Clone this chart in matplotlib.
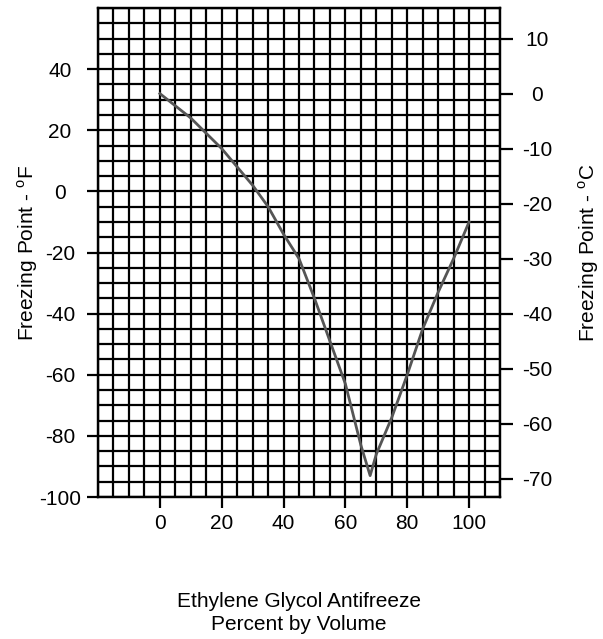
import numpy as np
import matplotlib
matplotlib.use("Agg")
import matplotlib.pyplot as plt

plt.rcParams['font.family'] = ['Liberation Sans', 'DejaVu Sans']
plt.rcParams['mathtext.fontset'] = 'custom'
plt.rcParams['mathtext.rm'] = 'Liberation Sans'
plt.rcParams['axes.unicode_minus'] = False

# Data
percent = [0, 10, 20, 30, 35, 40, 45, 50, 55, 60, 65, 68, 70, 75, 80, 85, 90, 95, 100]
freeze_f = [32, 24, 14, 2, -5, -14, -22, -35, -49, -63, -83, -93, -86, -74, -60, -45, -33, -22, -10]

x_ticks = [0, 20, 40, 60, 80, 100]
f_ticks = [-100, -80, -60, -40, -20, 0, 20, 40]
c_ticks = [-70, -60, -50, -40, -30, -20, -10, 0, 10]

fs = 15
fig = plt.figure(figsize=(6.03, 6.39), dpi=100)
ax = fig.add_axes([98/603, 1 - 497/639, (500-98)/603, (497-8)/639])

ax.set_xlim(-20, 110)
ax.set_ylim(-100, 60)

lw = 1.6
ax.set_xticks(x_ticks)
ax.set_yticks(f_ticks)
ax.set_xticks(np.arange(-20, 111, 5), minor=True)
ax.set_yticks(np.arange(-100, 61, 5), minor=True)
ax.xaxis.remove_overlapping_locs = False
ax.yaxis.remove_overlapping_locs = False
ax.grid(which='minor', color='black', linewidth=lw)
ax.set_axisbelow(True)
ax.tick_params(which='minor', length=0)
ax.tick_params(which='major', length=8, width=lw, labelsize=fs, color='black')
ax.tick_params(axis='y', pad=19.4)
ax.tick_params(axis='x', pad=4)
for lab in ax.get_yticklabels():
    lab.set_horizontalalignment('center')
for s in ax.spines.values():
    s.set_linewidth(lw)

ax.plot(percent, freeze_f, color='#555555', linewidth=2.0, zorder=3)

ax.set_ylabel(r'Freezing Point - $^{\mathregular{o}}$F', fontsize=fs)
ax.yaxis.set_label_coords(-0.145, 0.5)
ax.set_xlabel('Ethylene Glycol Antifreeze\nPercent by Volume', fontsize=fs,
              labelpad=43, linespacing=1.22)

ax2 = ax.twinx()
ax2.set_ylim((-100 - 32) / 1.8, (60 - 32) / 1.8)
ax2.set_yticks(c_ticks)
ax2.tick_params(length=9.4, width=lw, labelsize=fs, pad=17.3)
for lab in ax2.get_yticklabels():
    lab.set_horizontalalignment('center')
for s in ax2.spines.values():
    s.set_linewidth(lw)
ax2.set_ylabel(r'Freezing Point - $^{\mathregular{o}}$C', fontsize=fs)
ax2.yaxis.set_label_coords(1.19, 0.5)

fig.savefig('out.png', dpi=100)
